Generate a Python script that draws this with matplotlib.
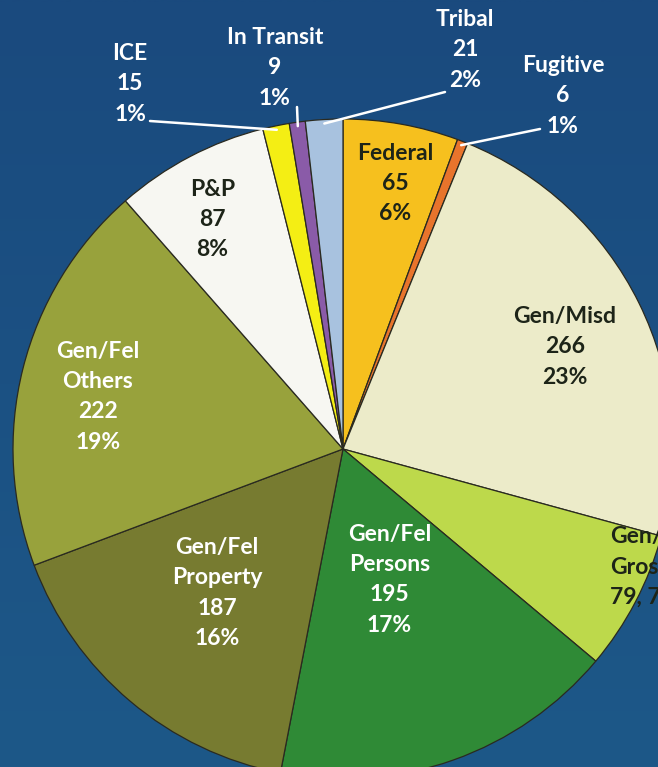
import numpy as np
import matplotlib
matplotlib.use("Agg")
import matplotlib.pyplot as plt

# data, clockwise from 12 o'clock
categories = ["Federal", "Fugitive", "Gen/Misd", "Gen/Gross", "Gen/Fel Persons",
              "Gen/Fel Property", "Gen/Fel Others", "P&P", "ICE", "In Transit", "Tribal"]
counts = [65, 6, 266, 79, 195, 187, 222, 87, 15, 9, 21]
percents = ["6%", "1%", "23%", "7%", "17%", "16%", "19%", "8%", "1%", "1%", "2%"]
label_names = ["Federal", "Fugitive", "Gen/Misd", "Gen/\nGross", "Gen/Fel\nPersons",
               "Gen/Fel\nProperty", "Gen/Fel\nOthers", "P&P", "ICE", "In Transit", "Tribal"]

colors = ["#f6c01e", "#e8742c", "#ecebc9", "#bdd94b", "#2f8a36",
          "#777b30", "#98a23c", "#f7f7f2", "#f4ee14", "#8a5ba8", "#a8c2df"]

W, H = 658, 767
cx, cy, R = 343, H - 449, 330

fig = plt.figure(figsize=(W / 100, H / 100), dpi=100)

# background gradient
bg = fig.add_axes([0, 0, 1, 1], zorder=0)
grad = np.linspace(0, 1, 256).reshape(-1, 1)
cmap = matplotlib.colors.LinearSegmentedColormap.from_list("bg", ["#1d5888", "#1a4a7e"])
bg.imshow(grad, aspect="auto", cmap=cmap, extent=[0, 1, 0, 1], origin="lower")
bg.axis("off")

ax = fig.add_axes([0, 0, 1, 1], zorder=1)
ax.patch.set_alpha(0)
wedges, _ = ax.pie(counts, colors=colors, startangle=90, counterclock=False,
                   center=(cx, cy), radius=R,
                   wedgeprops=dict(edgecolor="#2a2a20", linewidth=0.9))
ax.set_xlim(0, W)
ax.set_ylim(0, H)
ax.set_aspect("equal")
ax.axis("off")

font = dict(family=["Lato", "DejaVu Sans"], fontweight="bold", fontsize=16.5,
            ha="center", va="center", linespacing=1.55)
dark = "#1d2418"
white = "#ffffff"

# inside labels: (radius fraction, angle nudge in degrees, colour)
inside = {
    "Federal": (0.82, -1, dark),
    "Gen/Misd": (0.74, -1.5, dark),
    "Gen/Fel Persons": (0.42, 0, white),
    "Gen/Fel Property": (0.58, -1, white),
    "Gen/Fel Others": (0.76, 2, white),
    "P&P": (0.80, 2, dark),
}
# outside labels: text centre and leader start, in pixels from top-left
outside = {
    "Fugitive": ((563, 96), (540, 129)),
    "ICE": ((130, 84), (150, 121)),
    "In Transit": ((275, 68), (297, 107)),
    "Tribal": ((465, 50), (445, 92)),
}

for w, cat, n, p, name in zip(wedges, categories, counts, percents, label_names):
    mid = np.deg2rad((w.theta1 + w.theta2) / 2)
    text = f"{name}\n{n}\n{p}"
    if cat == "Gen/Gross":
        # label runs off the right edge of the picture
        a = mid + np.deg2rad(6)
        ax.text(cx + 0.87 * R * np.cos(a), cy + 0.97 * R * np.sin(a),
                f"{name}\n{n}, {p}", color=dark,
                **{**font, "ha": "left", "multialignment": "left"})
    elif cat in inside:
        frac, nudge, col = inside[cat]
        a = mid + np.deg2rad(nudge)
        ax.text(cx + frac * R * np.cos(a), cy + frac * R * np.sin(a), text,
                color=col, **font)
    else:
        (tx, ty), (lx, ly) = outside[cat]
        ax.text(tx, H - ty, text, color=white, **font)
        ex, ey = cx + (R - 4) * np.cos(mid), cy + (R - 4) * np.sin(mid)
        ax.plot([lx, ex], [H - ly, ey], color="white", linewidth=1.8,
                solid_capstyle="round", zorder=3)

fig.savefig("out.png", dpi=100)
